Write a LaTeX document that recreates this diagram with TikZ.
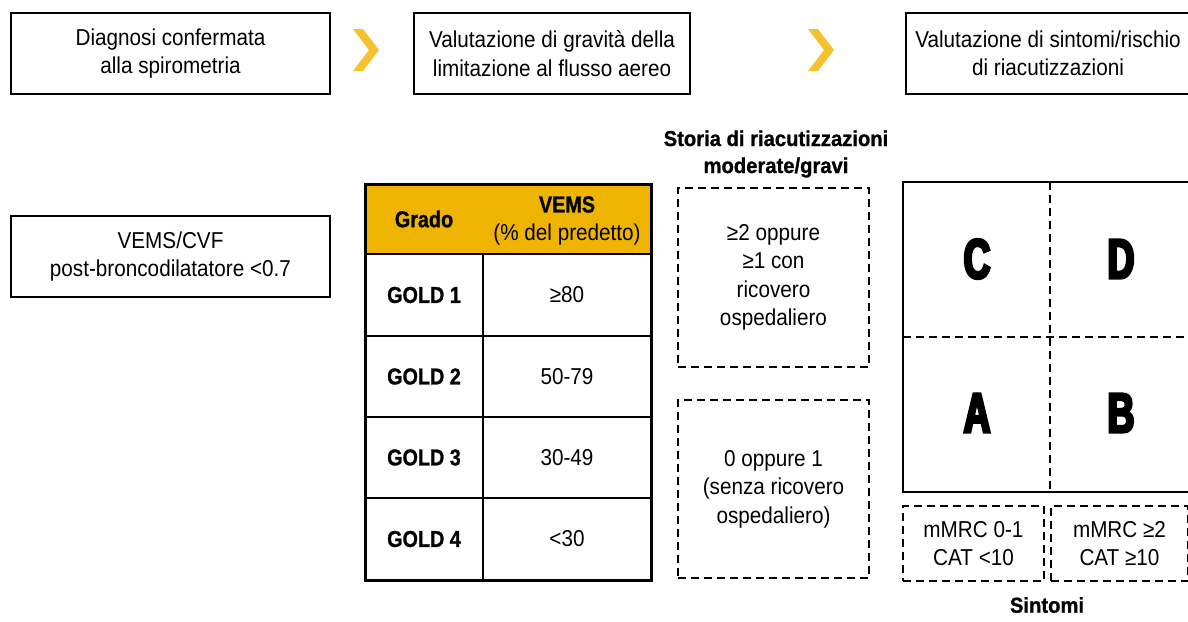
\documentclass[tikz,border=0pt]{standalone}
\usepackage{fontspec}
\setmainfont{Liberation Sans}[FakeStretch=0.9]
\newfontfamily\bcond{Liberation Sans}[FakeStretch=0.86, FakeBold=1]
\newfontfamily\tcond{Liberation Sans}[FakeStretch=0.94, FakeBold=1]
\newfontfamily\hcond{Liberation Sans}[FakeStretch=0.66, FakeBold=5]
\definecolor{gold}{HTML}{EEB400}
\definecolor{chev}{HTML}{F4C22F}
\newcommand\regf{\fontsize{23}{28.5}\selectfont}
\newcommand\boldf{\bcond\bfseries\fontsize{23}{28.5}\selectfont}
\newcommand\titf{\tcond\bfseries\fontsize{21.5}{27}\selectfont}
\newcommand\letf{\hcond\bfseries\fontsize{56}{56}\selectfont}
\tikzset{
  sbox/.style={draw, line width=2.5pt, inner sep=0pt, align=center, font=\regf},
  dbox/.style={draw, line width=2.5pt, dash pattern=on 8pt off 5pt, inner sep=0pt, align=center, font=\regf},
  cell/.style={inner sep=0pt, align=center, font=\regf},
  bcell/.style={inner sep=0pt, align=center, font=\boldf},
  chevron/.style={fill=chev, draw=none},
  biglet/.style={inner sep=0pt, font=\letf}
}
\begin{document}
\begin{tikzpicture}[x=1pt,y=-1pt]
\useasboundingbox (0,0) rectangle (1188,621);
\clip (0,0) rectangle (1188,621);
% top row
\node[sbox, minimum width=319pt, minimum height=81pt] (diag) at (170.5,53.5) {Diagnosi confermata\\alla spirometria};
\node[sbox, minimum width=276pt, minimum height=81pt] (grav) at (552,53.5) {Valutazione di gravità della\\limitazione al flusso aereo};
\node[sbox, minimum width=284pt, minimum height=81pt] (sint) at (1048,53.5) {Valutazione di sintomi/rischio\\di riacutizzazioni};
\fill[chevron] (353,29) -- (363,29) -- (379,50) -- (363,71) -- (353,71) -- (369,50) -- cycle;
\fill[chevron] (808,29) -- (818,29) -- (834,50) -- (818,71) -- (808,71) -- (824,50) -- cycle;
% VEMS/CVF
\node[sbox, minimum width=319pt, minimum height=81pt] (vcvf) at (170.5,256.5) {VEMS/CVF\\post-broncodilatatore <0.7};
% table
\fill[gold] (365,184) rectangle (651,254);
\draw[line width=2.5pt] (365,254) -- (651,254);
\draw[line width=2.5pt] (365,336) -- (651,336);
\draw[line width=2.5pt] (365,417) -- (651,417);
\draw[line width=2.5pt] (365,498) -- (651,498);
\draw[line width=2.5pt] (483,254) -- (483,580);
\draw[line width=3pt] (365,184) rectangle (651,580);
\node[bcell] (grado) at (424,219) {Grado};
\node[cell] (vems) at (567,221) {{\boldf VEMS}\\(\% del predetto)};
\node[bcell] (g1) at (424,295) {GOLD 1};
\node[cell] (v1) at (567,295) {≥80};
\node[bcell] (g2) at (424,376.5) {GOLD 2};
\node[cell] (v2) at (567,376.5) {50-79};
\node[bcell] (g3) at (424,457.5) {GOLD 3};
\node[cell] (v3) at (567,457.5) {30-49};
\node[bcell] (g4) at (424,539) {GOLD 4};
\node[cell] (v4) at (567,539) {<30};
% exacerbation history
\node[inner sep=0pt, align=center, font=\titf] (storia) at (776,154) {Storia di riacutizzazioni\\moderate/gravi};
\node[dbox, minimum width=191pt, minimum height=179pt] (hi) at (773.5,277.5) {≥2 oppure\\≥1 con\\ricovero\\ospedaliero};
\node[dbox, minimum width=191pt, minimum height=178pt] (lo) at (773.5,489) {0 oppure 1\\(senza ricovero\\ospedaliero)};
% ABCD grid
\draw[line width=2.5pt] (903,182) rectangle (1197,492);
\draw[line width=2.5pt, dash pattern=on 8pt off 5pt] (1050,182) -- (1050,492);
\draw[line width=2.5pt, dash pattern=on 8pt off 5pt] (903,337) -- (1197,337);
\node[biglet] (C) at (977,259) {C};
\node[biglet] (D) at (1121,259) {D};
\node[biglet] (A) at (977,413) {A};
\node[biglet] (B) at (1121,413) {B};
\node[dbox, minimum width=141pt, minimum height=75pt] (s1) at (973.5,543.5) {mMRC 0-1\\CAT <10};
\node[dbox, minimum width=137pt, minimum height=75pt] (s2) at (1119.5,543.5) {mMRC ≥2\\CAT ≥10};
\node[inner sep=0pt, font=\titf] (sintomi) at (1047,605) {Sintomi};
\end{tikzpicture}
\end{document}
